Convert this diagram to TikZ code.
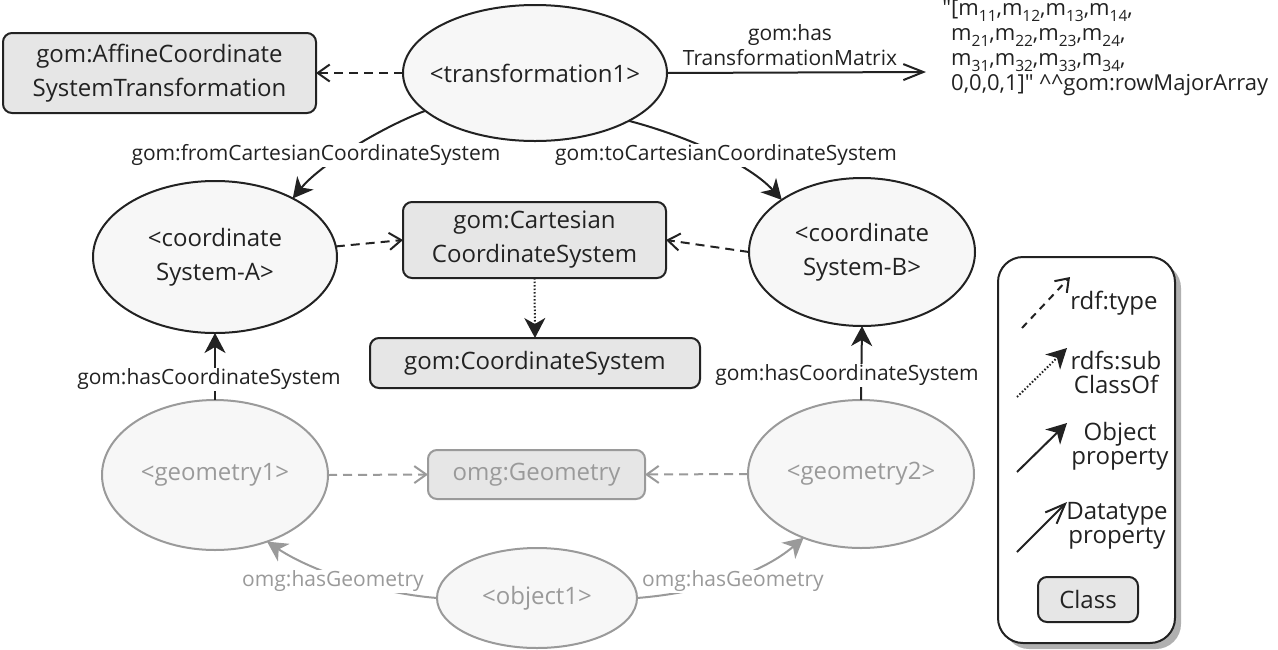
\documentclass[tikz,border=0pt]{standalone}
\usepackage{fontspec}
\setmainfont{Open Sans}
\usetikzlibrary{arrows.meta,shapes.geometric}
\definecolor{ink}{HTML}{222222}
\definecolor{fade}{HTML}{9A9A9A}
\definecolor{ellfill}{HTML}{F7F7F7}
\definecolor{boxfill}{HTML}{E6E6E6}
\definecolor{shadowc}{HTML}{B0B0B0}
% matrix entry m with a lowered index
\newcommand\msub[1]{m\raisebox{-0.26em}{\fontsize{15.5}{15.5}\selectfont#1}}
\tikzset{
  big/.style={font=\fontsize{24}{34}\selectfont},
  small/.style={font=\fontsize{21}{25}\selectfont},
  inst/.style={ellipse, draw=ink, line width=2pt, fill=ellfill, inner sep=0pt, outer sep=0pt},
  itxt/.style={big, align=center, text=ink, inner sep=0pt},
  cls/.style={rectangle, rounded corners=9pt, draw=ink, line width=2pt, fill=boxfill,
    inner sep=0pt, outer sep=0pt, big, align=center, text=ink},
  faded/.style={draw=fade, text=fade},
  elbl/.style={small, fill=white, inner sep=1pt, text=ink, align=center},
  leg/.style={font=\fontsize{24}{24}\selectfont, align=center, inner sep=0pt, text=ink},
  objp/.style={draw=ink, line width=2pt, -{Stealth[length=20pt,width=21pt,inset=6pt]}},
  typeof/.style={draw=ink, line width=2pt, dash pattern=on 9pt off 6pt,
    -{Straight Barb[length=12pt,width=17pt]}},
  subcl/.style={draw=ink, line width=2pt, dash pattern=on 1.5pt off 2pt,
    -{Stealth[length=20pt,width=21pt,inset=6pt]}},
  datap/.style={draw=ink, line width=2pt, -{Straight Barb[length=20pt,width=16pt]}},
}
\begin{document}
\begin{tikzpicture}[x=1pt,y=-1pt]
\useasboundingbox (0,0) rectangle (1278,649);

% ---- classes and instances ----
\node[cls, minimum width=313pt, minimum height=80pt] (affine) at (159.5,73)
  {gom:AffineCoordinate\\SystemTransformation};
\node[inst, minimum width=264pt, minimum height=136pt,
  label={[itxt]center:<transformation1>}] (t1) at (535,73) {};
\node[anchor=north west, inner sep=0pt, align=left,
  font=\fontsize{22}{25}\selectfont, text=ink] (lit) at (951,0)
  {\llap{\textquotedbl}[\msub{11},\msub{12},\msub{13},\msub{14},\\
   \msub{21},\msub{22},\msub{23},\msub{24},\\
   \msub{31},\msub{32},\msub{33},\msub{34},\\
   0,0,0,1]\textquotedbl{} \textasciicircum\textasciicircum gom:rowMajorArray};
\coordinate (litin) at (926,72);

\node[inst, minimum width=244pt, minimum height=152pt,
  label={[itxt]center:{<coordinate\\System-A>}}] (csA) at (215,257) {};
\node[cls, minimum width=263pt, minimum height=76pt] (cart) at (534.5,240)
  {gom:Cartesian\\CoordinateSystem};
\node[inst, minimum width=226pt, minimum height=148pt,
  label={[itxt]center:{<coordinate\\System-B>}}] (csB) at (862,252) {};
\node[cls, minimum width=330pt, minimum height=50pt] (csys) at (535,363)
  {gom:CoordinateSystem};

\node[inst, faded, minimum width=226pt, minimum height=150pt,
  label={[itxt, text=fade]center:<geometry1>}] (g1) at (215,475) {};
\node[cls, faded, minimum width=217pt, minimum height=49pt] (geo) at (536.5,474.5)
  {omg:Geometry};
\node[inst, faded, minimum width=226pt, minimum height=148pt,
  label={[itxt, text=fade]center:<geometry2>}] (g2) at (861,474) {};
\node[inst, faded, minimum width=200pt, minimum height=100pt,
  label={[itxt, text=fade]center:<object1>}] (obj) at (537,598) {};

% ---- relations ----
\draw[typeof] (t1.west) -- (affine.east);
\draw[datap] (t1.east) -- (litin);
\draw[objp] (t1.199) .. controls (380,128) and (320,165) .. (csA.37);
\draw[objp] (t1.333) .. controls (690,137) and (750,165) .. (csB.147);
\draw[typeof] (csA.5) -- (cart.west);
\draw[typeof] (csB.west) -- (cart.east);
\draw[subcl] (cart.south) -- (csys.north);
\draw[objp] (g1.north) -- (csA.south);
\draw[objp] (g2.north) -- (csB.south);
\draw[typeof, draw=fade] (g1.east) -- (geo.west);
\draw[typeof, draw=fade] (g2.west) -- (geo.east);
\draw[objp, draw=fade] (obj.west) .. controls (375,593) and (310,570) .. (g1.308);
\draw[objp, draw=fade] (obj.east) .. controls (700,593) and (760,575) .. (g2.228);

% ---- relation labels ----
\node[elbl] (lTM) at (790,45) {gom:has\\TransformationMatrix};
\node[elbl] (lFrom) at (316,155) {gom:fromCartesianCoordinateSystem};
\node[elbl] (lTo) at (726,155) {gom:toCartesianCoordinateSystem};
\node[elbl] (lHasA) at (209,379) {gom:hasCoordinateSystem};
\node[elbl] (lHasB) at (847,375) {gom:hasCoordinateSystem};
\node[elbl, text=fade] (lGeoA) at (333,581) {omg:hasGeometry};
\node[elbl, text=fade] (lGeoB) at (733,581) {omg:hasGeometry};

% ---- legend ----
\fill[shadowc, rounded corners=25pt] (1004,263) rectangle (1181,649);
\node[draw=ink, line width=2pt, fill=white, rounded corners=25pt,
  minimum width=177pt, minimum height=386pt, inner sep=0pt] (legend) at (1086.5,450) {};
\coordinate (la1) at (1022,328); \coordinate (lb1) at (1070,277);
\draw[typeof, dash pattern=on 7pt off 6pt] (la1) -- (lb1);
\node[leg] (lgA) at (1114,303) {rdf:type};
\coordinate (la2) at (1017,397); \coordinate (lb2) at (1067,348);
\draw[subcl] (la2) -- (lb2);
\node[leg] (lgB) at (1116,372) {rdfs:sub\\ClassOf};
\coordinate (la3) at (1017,472); \coordinate (lb3) at (1067,423);
\draw[objp] (la3) -- (lb3);
\node[leg] (lgC) at (1120,446) {Object\\property};
\coordinate (la4) at (1017,552); \coordinate (lb4) at (1067,502);
\draw[datap] (la4) -- (lb4);
\node[leg] (lgD) at (1117,526) {Datatype\\property};
\node[cls, minimum width=100pt, minimum height=45pt] (lgE) at (1088,599.5) {Class};
\end{tikzpicture}
\end{document}
